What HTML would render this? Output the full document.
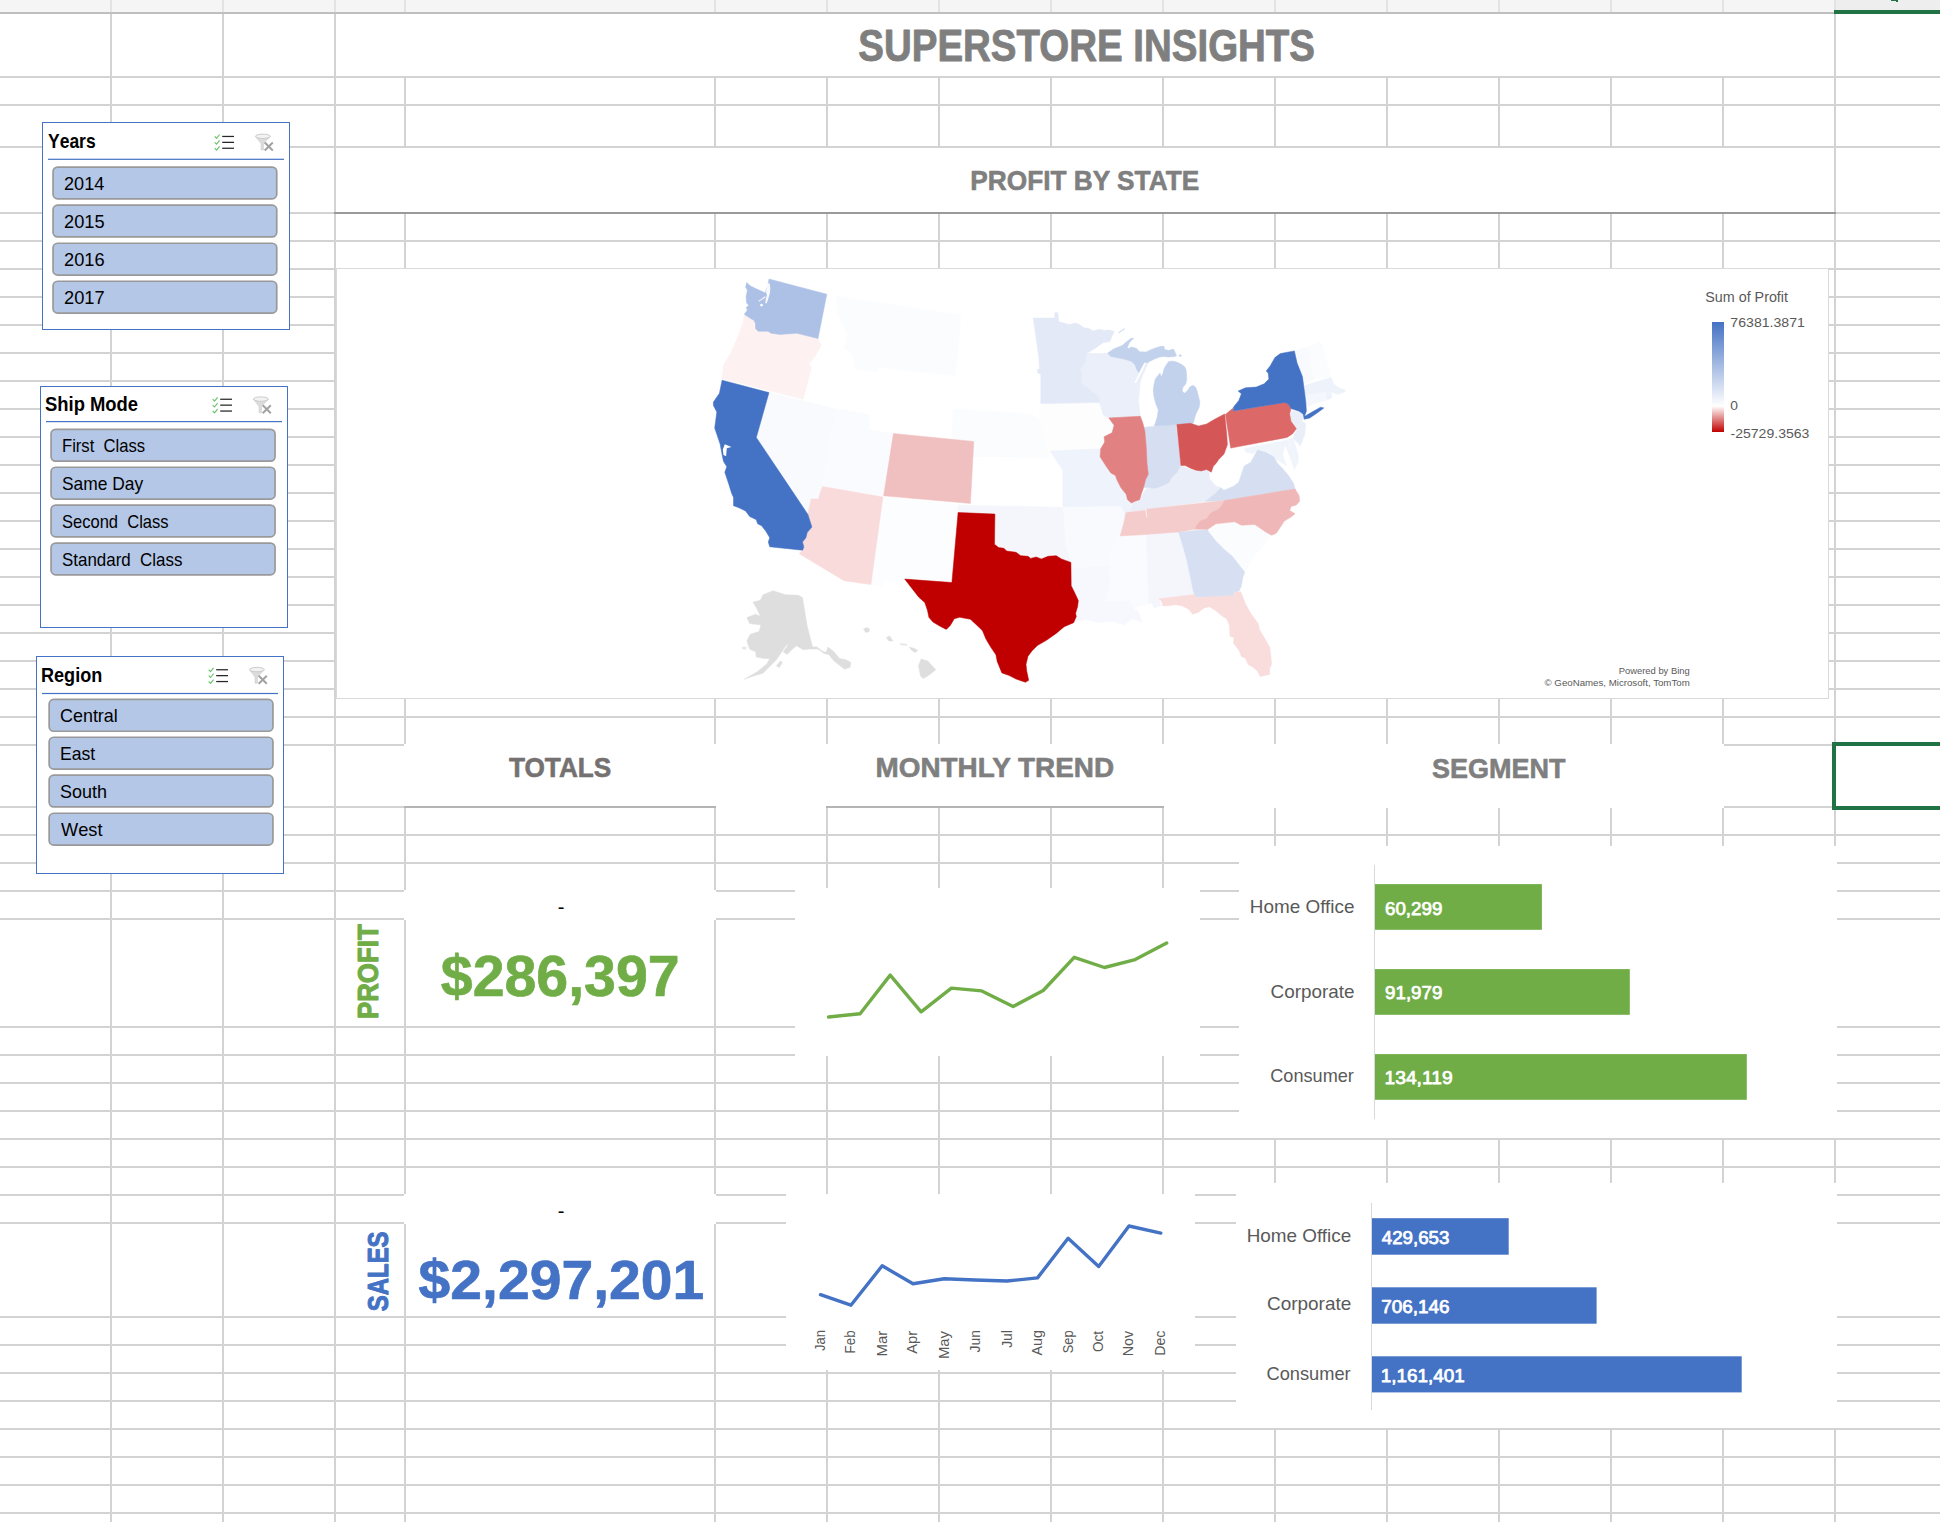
<!DOCTYPE html>
<html lang="en"><head><meta charset="utf-8"><title>Superstore Insights</title>
<style>
html,body{margin:0;padding:0;background:#fff}
body{width:1940px;height:1522px;overflow:hidden;font-family:"Liberation Sans", sans-serif}
#sheet{position:relative;width:1940px;height:1522px;overflow:hidden}
#sheet>svg{position:absolute;left:0;top:0}
svg text{font-family:"Liberation Sans", sans-serif;white-space:pre}

.slicer{position:absolute;box-sizing:border-box;border:1px solid #4472c4;background:#fff}
.slicer svg{position:absolute;left:-1px;top:-1px}
.slicer .t{position:absolute;line-height:1;white-space:pre;color:#000;transform-origin:0 0;font-kerning:none}
.slicer .h{font-weight:bold}

</style></head><body>
<div id="sheet">
<svg width="1940" height="1522" viewBox="0 0 1940 1522">
<g shape-rendering="crispEdges">
<rect x="0" y="0" width="1940" height="12" fill="#f5f5f5"/>
<rect x="1834" y="0" width="106" height="12" fill="#eeeeee"/>
<rect x="110" y="0" width="2" height="12" fill="#e3e3e3"/>
<rect x="222" y="0" width="2" height="12" fill="#e3e3e3"/>
<rect x="334" y="0" width="2" height="12" fill="#e3e3e3"/>
<rect x="404" y="0" width="2" height="12" fill="#e3e3e3"/>
<rect x="714" y="0" width="2" height="12" fill="#e3e3e3"/>
<rect x="826" y="0" width="2" height="12" fill="#e3e3e3"/>
<rect x="938" y="0" width="2" height="12" fill="#e3e3e3"/>
<rect x="1050" y="0" width="2" height="12" fill="#e3e3e3"/>
<rect x="1162" y="0" width="2" height="12" fill="#e3e3e3"/>
<rect x="1274" y="0" width="2" height="12" fill="#e3e3e3"/>
<rect x="1386" y="0" width="2" height="12" fill="#e3e3e3"/>
<rect x="1498" y="0" width="2" height="12" fill="#e3e3e3"/>
<rect x="1610" y="0" width="2" height="12" fill="#e3e3e3"/>
<rect x="1722" y="0" width="2" height="12" fill="#e3e3e3"/>
<rect x="1834" y="0" width="2" height="12" fill="#e3e3e3"/>
<rect x="0" y="12" width="1834" height="2" fill="#bfbfbf"/>
<rect x="1834" y="10" width="106" height="4" fill="#217346"/>
<path d="M1889.5 0H1897.5V1.8L1893 1Z" fill="#217346"/>
<rect x="110" y="14" width="2" height="1508" fill="#d3d3d3"/>
<rect x="222" y="14" width="2" height="1508" fill="#d3d3d3"/>
<rect x="334" y="14" width="2" height="1508" fill="#d3d3d3"/>
<rect x="404" y="14" width="2" height="1508" fill="#d3d3d3"/>
<rect x="714" y="14" width="2" height="1508" fill="#d3d3d3"/>
<rect x="826" y="14" width="2" height="1508" fill="#d3d3d3"/>
<rect x="938" y="14" width="2" height="1508" fill="#d3d3d3"/>
<rect x="1050" y="14" width="2" height="1508" fill="#d3d3d3"/>
<rect x="1162" y="14" width="2" height="1508" fill="#d3d3d3"/>
<rect x="1274" y="14" width="2" height="1508" fill="#d3d3d3"/>
<rect x="1386" y="14" width="2" height="1508" fill="#d3d3d3"/>
<rect x="1498" y="14" width="2" height="1508" fill="#d3d3d3"/>
<rect x="1610" y="14" width="2" height="1508" fill="#d3d3d3"/>
<rect x="1722" y="14" width="2" height="1508" fill="#d3d3d3"/>
<rect x="1834" y="14" width="2" height="1508" fill="#d3d3d3"/>
<rect x="0" y="76" width="1940" height="2" fill="#d3d3d3"/>
<rect x="0" y="104" width="1940" height="2" fill="#d3d3d3"/>
<rect x="0" y="146" width="1940" height="2" fill="#d3d3d3"/>
<rect x="0" y="212" width="1940" height="2" fill="#d3d3d3"/>
<rect x="0" y="240" width="1940" height="2" fill="#d3d3d3"/>
<rect x="0" y="268" width="1940" height="2" fill="#d3d3d3"/>
<rect x="0" y="296" width="1940" height="2" fill="#d3d3d3"/>
<rect x="0" y="324" width="1940" height="2" fill="#d3d3d3"/>
<rect x="0" y="352" width="1940" height="2" fill="#d3d3d3"/>
<rect x="0" y="380" width="1940" height="2" fill="#d3d3d3"/>
<rect x="0" y="408" width="1940" height="2" fill="#d3d3d3"/>
<rect x="0" y="436" width="1940" height="2" fill="#d3d3d3"/>
<rect x="0" y="464" width="1940" height="2" fill="#d3d3d3"/>
<rect x="0" y="492" width="1940" height="2" fill="#d3d3d3"/>
<rect x="0" y="520" width="1940" height="2" fill="#d3d3d3"/>
<rect x="0" y="548" width="1940" height="2" fill="#d3d3d3"/>
<rect x="0" y="576" width="1940" height="2" fill="#d3d3d3"/>
<rect x="0" y="604" width="1940" height="2" fill="#d3d3d3"/>
<rect x="0" y="632" width="1940" height="2" fill="#d3d3d3"/>
<rect x="0" y="660" width="1940" height="2" fill="#d3d3d3"/>
<rect x="0" y="688" width="1940" height="2" fill="#d3d3d3"/>
<rect x="0" y="716" width="1940" height="2" fill="#d3d3d3"/>
<rect x="0" y="744" width="1940" height="2" fill="#d3d3d3"/>
<rect x="0" y="806" width="1940" height="2" fill="#d3d3d3"/>
<rect x="0" y="834" width="1940" height="2" fill="#d3d3d3"/>
<rect x="0" y="862" width="1940" height="2" fill="#d3d3d3"/>
<rect x="0" y="890" width="1940" height="2" fill="#d3d3d3"/>
<rect x="0" y="918" width="1940" height="2" fill="#d3d3d3"/>
<rect x="0" y="1026" width="1940" height="2" fill="#d3d3d3"/>
<rect x="0" y="1054" width="1940" height="2" fill="#d3d3d3"/>
<rect x="0" y="1082" width="1940" height="2" fill="#d3d3d3"/>
<rect x="0" y="1110" width="1940" height="2" fill="#d3d3d3"/>
<rect x="0" y="1138" width="1940" height="2" fill="#d3d3d3"/>
<rect x="0" y="1166" width="1940" height="2" fill="#d3d3d3"/>
<rect x="0" y="1194" width="1940" height="2" fill="#d3d3d3"/>
<rect x="0" y="1222" width="1940" height="2" fill="#d3d3d3"/>
<rect x="0" y="1316" width="1940" height="2" fill="#d3d3d3"/>
<rect x="0" y="1344" width="1940" height="2" fill="#d3d3d3"/>
<rect x="0" y="1372" width="1940" height="2" fill="#d3d3d3"/>
<rect x="0" y="1400" width="1940" height="2" fill="#d3d3d3"/>
<rect x="0" y="1428" width="1940" height="2" fill="#d3d3d3"/>
<rect x="0" y="1456" width="1940" height="2" fill="#d3d3d3"/>
<rect x="0" y="1484" width="1940" height="2" fill="#d3d3d3"/>
<rect x="0" y="1512" width="1940" height="2" fill="#d3d3d3"/>
<rect x="336" y="14" width="1498" height="62" fill="#fff"/>
<rect x="336" y="148" width="1498" height="64" fill="#fff"/>
<rect x="334" y="212" width="1502" height="2" fill="#9a9a9a"/>
<rect x="404" y="744" width="1320" height="64" fill="#fff"/>
<rect x="404" y="806" width="312" height="2" fill="#b4b4b4"/>
<rect x="826" y="806" width="338" height="2" fill="#b4b4b4"/>
<rect x="404" y="890" width="312" height="30" fill="#fff"/>
<rect x="404" y="1194" width="312" height="30" fill="#fff"/>
<rect x="406" y="920" width="308" height="106" fill="#fff"/>
<rect x="406" y="1224" width="308" height="92" fill="#fff"/>
<rect x="795" y="888" width="405" height="168" fill="#fff"/>
<rect x="1239" y="846" width="598" height="292" fill="#fff"/>
<rect x="786" y="1194" width="409" height="176" fill="#fff"/>
<rect x="1236" y="1183" width="601" height="245" fill="#fff"/>
<rect x="336" y="268" width="1493" height="431" fill="#d9d9d9"/>
<rect x="337" y="269" width="1491" height="429" fill="#fff"/>
<path d="M1832 742H1940V746H1836V806H1940V810H1832Z" fill="#217346"/>
</g>
<g id="labels">
<text x="858.34" y="61.349999999999994" font-size="44.0" fill="#7f7f7f" font-weight="bold" text-anchor="start" textLength="456.71" lengthAdjust="spacingAndGlyphs" stroke="#7f7f7f" stroke-width="0.9" stroke-linejoin="round">SUPERSTORE INSIGHTS</text>
<text x="970.28" y="189.5" font-size="28.3" fill="#7f7f7f" font-weight="bold" text-anchor="start" textLength="228.93" lengthAdjust="spacingAndGlyphs" stroke="#7f7f7f" stroke-width="0.6" stroke-linejoin="round">PROFIT BY STATE</text>
<text x="508.91" y="777.3000000000001" font-size="27.9" fill="#757171" font-weight="bold" text-anchor="start" textLength="102.39" lengthAdjust="spacingAndGlyphs" stroke="#757171" stroke-width="0.6" stroke-linejoin="round">TOTALS</text>
<text x="875.46" y="777.3000000000001" font-size="27.9" fill="#7f7f7f" font-weight="bold" text-anchor="start" textLength="238.7" lengthAdjust="spacingAndGlyphs" stroke="#7f7f7f" stroke-width="0.6" stroke-linejoin="round">MONTHLY TREND</text>
<text x="1432.02" y="777.7" font-size="27.9" fill="#7f7f7f" font-weight="bold" text-anchor="start" textLength="133.47" lengthAdjust="spacingAndGlyphs" stroke="#7f7f7f" stroke-width="0.6" stroke-linejoin="round">SEGMENT</text>
<text x="440.79" y="995.85" font-size="57.4" fill="#70ad47" font-weight="bold" text-anchor="start" textLength="238.87" lengthAdjust="spacingAndGlyphs" stroke="#70ad47" stroke-width="0.7" stroke-linejoin="round">$286,397</text>
<text x="418.6" y="1298.75" font-size="56.4" fill="#4472c4" font-weight="bold" text-anchor="start" textLength="285.64" lengthAdjust="spacingAndGlyphs" stroke="#4472c4" stroke-width="0.7" stroke-linejoin="round">$2,297,201</text>
<text x="561.2" y="913.9" font-size="20" fill="#000" font-weight="normal" text-anchor="middle">-</text>
<text x="561.2" y="1218.3" font-size="20" fill="#000" font-weight="normal" text-anchor="middle">-</text>
<text transform="translate(378.1,1017.4) rotate(-90)" x="-1.73" y="0" font-size="28.9" fill="#70ad47" font-weight="bold" textLength="95.01" lengthAdjust="spacingAndGlyphs" stroke="#70ad47" stroke-width="1.0" stroke-linejoin="round">PROFIT</text>
<text transform="translate(388.3,1310.5) rotate(-90)" x="-0.69" y="0" font-size="29.4" fill="#4472c4" font-weight="bold" textLength="79.72" lengthAdjust="spacingAndGlyphs" stroke="#4472c4" stroke-width="1.0" stroke-linejoin="round">SALES</text>
</g>
<g id="charts">
<polyline fill="none" stroke="#70ad47" stroke-width="3.4" stroke-linecap="round" stroke-linejoin="round" points="828.6,1017.0 860.1,1013.7 890.2,975.1 921.1,1011.8 951.4,988.1 981.8,990.9 1013.1,1006.6 1043.2,990.5 1074.2,957.3 1104.4,967.5 1135.2,959.6 1166.7,943.0"/>
<polyline fill="none" stroke="#4472c4" stroke-width="3.4" stroke-linecap="round" stroke-linejoin="round" points="820.5,1294.7 850.9,1305.2 882.2,1265.8 913.0,1283.8 944.3,1278.8 975.1,1280.0 1007.1,1281.0 1037.5,1277.9 1068.1,1238.3 1098.7,1266.5 1129.0,1226.0 1160.8,1233.1"/>
<text transform="translate(824.9,1350.9) rotate(-90)" x="-0.2" y="0" font-size="14.8" fill="#595959" font-weight="normal" textLength="20.95" lengthAdjust="spacingAndGlyphs">Jan</text>
<text transform="translate(855.3,1352.3) rotate(-90)" x="-1.09" y="0" font-size="14.8" fill="#595959" font-weight="normal" textLength="22.95" lengthAdjust="spacingAndGlyphs">Feb</text>
<text transform="translate(886.6,1355.4) rotate(-90)" x="-1.23" y="0" font-size="14.8" fill="#595959" font-weight="normal" textLength="25.88" lengthAdjust="spacingAndGlyphs">Mar</text>
<text transform="translate(917.4,1353.8) rotate(-90)" x="-0.03" y="0" font-size="14.8" fill="#595959" font-weight="normal" textLength="23.08" lengthAdjust="spacingAndGlyphs">Apr</text>
<text transform="translate(948.7,1357.8) rotate(-90)" x="-1.22" y="0" font-size="14.8" fill="#595959" font-weight="normal" textLength="28.05" lengthAdjust="spacingAndGlyphs">May</text>
<text transform="translate(979.5,1352.3) rotate(-90)" x="-0.22" y="0" font-size="14.8" fill="#595959" font-weight="normal" textLength="22.42" lengthAdjust="spacingAndGlyphs">Jun</text>
<text transform="translate(1011.5,1347.6) rotate(-90)" x="-0.22" y="0" font-size="14.8" fill="#595959" font-weight="normal" textLength="17.75" lengthAdjust="spacingAndGlyphs">Jul</text>
<text transform="translate(1041.9,1355.4) rotate(-90)" x="-0.03" y="0" font-size="14.8" fill="#595959" font-weight="normal" textLength="25.35" lengthAdjust="spacingAndGlyphs">Aug</text>
<text transform="translate(1072.5,1352.6) rotate(-90)" x="-0.58" y="0" font-size="14.8" fill="#595959" font-weight="normal" textLength="22.72" lengthAdjust="spacingAndGlyphs">Sep</text>
<text transform="translate(1103.1,1351.4) rotate(-90)" x="-0.64" y="0" font-size="14.8" fill="#595959" font-weight="normal" textLength="21.14" lengthAdjust="spacingAndGlyphs">Oct</text>
<text transform="translate(1133.4,1355.2) rotate(-90)" x="-1.17" y="0" font-size="14.8" fill="#595959" font-weight="normal" textLength="25.42" lengthAdjust="spacingAndGlyphs">Nov</text>
<text transform="translate(1165.2,1354.7) rotate(-90)" x="-1.16" y="0" font-size="14.8" fill="#595959" font-weight="normal" textLength="25.24" lengthAdjust="spacingAndGlyphs">Dec</text>
<rect x="1374" y="865" width="1" height="254" fill="#d9d9d9" shape-rendering="crispEdges"/>
<rect x="1375" y="884.1" width="166.9" height="45.7" fill="#70ad47"/>
<text x="1249.86" y="912.9" font-size="18.6" fill="#595959" font-weight="normal" text-anchor="start" textLength="104.58" lengthAdjust="spacingAndGlyphs">Home Office</text>
<text x="1385.02" y="914.725" font-size="18.0" fill="#fff" font-weight="normal" text-anchor="start" textLength="57.29" lengthAdjust="spacingAndGlyphs" stroke="#fff" stroke-width="0.75" stroke-linejoin="round">60,299</text>
<rect x="1375" y="969.1" width="254.8" height="45.7" fill="#70ad47"/>
<text x="1270.54" y="997.6" font-size="18.6" fill="#595959" font-weight="normal" text-anchor="start" textLength="83.9" lengthAdjust="spacingAndGlyphs">Corporate</text>
<text x="1385.1" y="998.825" font-size="18.0" fill="#fff" font-weight="normal" text-anchor="start" textLength="57.21" lengthAdjust="spacingAndGlyphs" stroke="#fff" stroke-width="0.75" stroke-linejoin="round">91,979</text>
<rect x="1375" y="1054.1" width="371.8" height="45.7" fill="#70ad47"/>
<text x="1270.28" y="1081.6000000000001" font-size="18.6" fill="#595959" font-weight="normal" text-anchor="start" textLength="83.62" lengthAdjust="spacingAndGlyphs">Consumer</text>
<text x="1384.54" y="1084.125" font-size="18.0" fill="#fff" font-weight="normal" text-anchor="start" textLength="68.08" lengthAdjust="spacingAndGlyphs" stroke="#fff" stroke-width="0.75" stroke-linejoin="round">134,119</text>
<rect x="1371" y="1203" width="1" height="207" fill="#d9d9d9" shape-rendering="crispEdges"/>
<rect x="1372" y="1218.2" width="136.7" height="36.5" fill="#4472c4"/>
<text x="1246.66" y="1241.6000000000001" font-size="18.6" fill="#595959" font-weight="normal" text-anchor="start" textLength="104.58" lengthAdjust="spacingAndGlyphs">Home Office</text>
<text x="1381.75" y="1244.125" font-size="18.0" fill="#fff" font-weight="normal" text-anchor="start" textLength="67.6" lengthAdjust="spacingAndGlyphs" stroke="#fff" stroke-width="0.75" stroke-linejoin="round">429,653</text>
<rect x="1372" y="1287.3" width="224.6" height="36.4" fill="#4472c4"/>
<text x="1267.04" y="1310.3000000000002" font-size="18.6" fill="#595959" font-weight="normal" text-anchor="start" textLength="84.2" lengthAdjust="spacingAndGlyphs">Corporate</text>
<text x="1381.2" y="1312.825" font-size="18.0" fill="#fff" font-weight="normal" text-anchor="start" textLength="68.45" lengthAdjust="spacingAndGlyphs" stroke="#fff" stroke-width="0.75" stroke-linejoin="round">706,146</text>
<rect x="1372" y="1356.3" width="369.7" height="36.1" fill="#4472c4"/>
<text x="1266.47" y="1379.7" font-size="18.6" fill="#595959" font-weight="normal" text-anchor="start" textLength="84.23" lengthAdjust="spacingAndGlyphs">Consumer</text>
<text x="1380.73" y="1381.825" font-size="18.0" fill="#fff" font-weight="normal" text-anchor="start" textLength="84.11" lengthAdjust="spacingAndGlyphs" stroke="#fff" stroke-width="0.75" stroke-linejoin="round">1,161,401</text>
</g>
<g id="map" stroke-linejoin="round">
<path d="M835.4 296.1 L961.1 314.9 L955.7 375.9 L876.9 367.2 L876.9 371.9 L855.5 369.2 L851.4 353.1 L844.1 349.1 L847.4 335.7 L838.0 314.2Z" fill="#fbfcfe" stroke="#fbfcfe" stroke-width="0.5"/>
<path d="M769.0 392.6 L835.6 408.7 L822.6 486.6 L819.9 493.6 L818.6 499.0 L811.2 499.0 L807.9 514.4 L756.3 437.5Z" fill="#f8fafd" stroke="#f8fafd" stroke-width="0.5"/>
<path d="M835.6 408.7 L869.5 414.7 L868.9 429.5 L892.0 433.3 L883.0 496.3 L822.6 486.6Z" fill="#fafbfe" stroke="#fafbfe" stroke-width="0.5"/>
<path d="M882.9 497.0 L958.3 504.5 L958.1 512.5 L951.9 582.5 L904.7 579.1 L904.6 582.6 L884.0 581.0 L883.4 586.3 L870.9 584.5Z" fill="#fcfdfe" stroke="#fcfdfe" stroke-width="0.5"/>
<path d="M953.0 408.7 L1031.4 414.1 L1039.5 418.8 L1044.8 437.5 L1050.2 457.6 L973.8 457.0 L973.8 441.5 L951.7 439.5Z" fill="#fafcfe" stroke="#fafcfe" stroke-width="0.5"/>
<path d="M958.1 504.9 L1062.9 507.2 L1064.2 514.1 L1065.6 543.6 L1070.9 562.4 L1061.5 559.0 L1056.2 555.7 L1048.1 556.3 L1041.4 559.0 L1036.1 557.0 L1030.7 558.4 L1028.0 556.3 L1020.7 555.7 L1016.0 552.3 L1006.6 551.0 L1003.9 548.3 L998.6 547.6 L994.5 544.3 L994.9 514.1 L958.1 512.5Z" fill="#f4f6fb" stroke="#f4f6fb" stroke-width="0.5"/>
<path d="M1040.8 403.6 L1099.8 402.7 L1101.8 409.4 L1103.1 414.8 L1108.8 417.9 L1114.1 425.3 L1112.1 432.7 L1104.1 436.7 L1104.7 442.1 L1100.7 448.8 L1050.2 451.0 L1044.8 437.5 L1039.5 418.8Z" fill="#fdfdfe" stroke="#fdfdfe" stroke-width="0.5"/>
<path d="M1050.2 451.0 L1100.7 448.8 L1100.1 456.8 L1106.1 466.2 L1110.8 472.9 L1115.5 475.6 L1116.8 479.6 L1120.8 487.6 L1126.2 494.3 L1127.5 499.7 L1131.5 503.0 L1130.2 511.1 L1127.0 517.5 L1123.0 517.5 L1124.0 512.0 L1120.5 506.5 L1062.9 507.2 L1062.9 470.0 L1057.0 462.0Z" fill="#eff3fb" stroke="#eff3fb" stroke-width="0.5"/>
<path d="M1062.9 507.2 L1120.5 506.5 L1124.0 512.0 L1123.0 517.5 L1126.0 517.0 L1123.5 523.8 L1120.2 535.9 L1116.8 539.9 L1111.4 550.6 L1109.5 566.0 L1071.2 568.0 L1070.9 562.4 L1065.6 543.6 L1064.2 514.1Z" fill="#f9fafe" stroke="#f9fafe" stroke-width="0.5"/>
<path d="M1071.2 568.0 L1109.5 566.0 L1110.1 584.1 L1106.1 600.9 L1130.2 600.2 L1134.2 608.2 L1139.0 613.0 L1142.0 622.0 L1132.0 619.0 L1124.0 625.0 L1112.0 621.0 L1098.0 622.5 L1085.0 619.5 L1073.6 622.7 L1076.3 616.6 L1075.6 613.3 L1077.6 606.6 L1078.3 600.6 L1074.3 591.9 L1071.2 585.8Z" fill="#f6f8fd" stroke="#f6f8fd" stroke-width="0.5"/>
<path d="M1120.2 535.9 L1146.3 534.5 L1147.6 577.4 L1149.0 604.2 L1139.6 605.6 L1134.2 608.2 L1130.2 600.2 L1106.1 600.9 L1110.1 584.1 L1108.8 564.0 L1111.4 550.6 L1116.8 539.9Z" fill="#fafbfe" stroke="#fafbfe" stroke-width="0.5"/>
<path d="M1146.3 534.5 L1178.5 532.1 L1181.1 539.9 L1186.5 558.7 L1190.5 577.4 L1193.2 590.8 L1194.5 595.1 L1159.0 598.2 L1161.0 605.6 L1154.3 608.2 L1151.7 602.9 L1149.0 604.2 L1147.6 577.4Z" fill="#f4f6fc" stroke="#f4f6fc" stroke-width="0.5"/>
<path d="M1208.6 531.9 L1216.0 523.8 L1234.7 521.8 L1241.4 525.2 L1254.8 524.5 L1265.6 531.9 L1271.6 535.2 L1264.0 545.0 L1253.0 557.0 L1244.8 572.1 L1241.4 568.0 L1237.4 562.7 L1232.1 556.0 L1224.0 549.3 L1216.0 541.2Z" fill="#fbfcfe" stroke="#fbfcfe" stroke-width="0.5"/>
<path d="M1295.1 350.6 L1308.9 346.7 L1314.1 378.9 L1303.6 384.1 L1301.6 373.6Z" fill="#f8fafe" stroke="#f8fafe" stroke-width="0.5"/>
<path d="M1308.9 346.7 L1319.4 342.1 L1322.0 343.4 L1331.2 377.6 L1314.1 378.9Z" fill="#fbfcfe" stroke="#fbfcfe" stroke-width="0.5"/>
<path d="M1304.3 385.4 L1331.2 377.6 L1333.8 384.1 L1339.1 388.1 L1345.7 390.0 L1344.4 392.0 L1337.8 394.6 L1331.2 392.0 L1304.9 394.9Z" fill="#eef2fa" stroke="#eef2fa" stroke-width="0.5"/>
<path d="M1305.2 395.3 L1326.0 392.3 L1327.3 399.9 L1314.1 403.8 L1307.6 406.5 L1306.2 403.8Z" fill="#f4f7fc" stroke="#f4f7fc" stroke-width="0.5"/>
<path d="M1326.0 392.3 L1331.2 392.0 L1331.9 397.9 L1327.3 399.9Z" fill="#eef2fa" stroke="#eef2fa" stroke-width="0.5"/>
<path d="M1291.8 410.4 L1303.0 413.3 L1304.3 418.3 L1301.6 420.9 L1305.6 423.6 L1304.9 434.1 L1300.3 445.9 L1293.1 438.0 L1297.0 428.8 L1291.1 420.9 L1290.5 415.7Z" fill="#e9eef8" stroke="#e9eef8" stroke-width="0.5"/>
<path d="M1288.5 439.3 L1293.1 438.0 L1298.3 455.1 L1293.1 455.8Z" fill="#f0f4fb" stroke="#f0f4fb" stroke-width="0.5"/>
<path d="M1244.5 448.5 L1287.8 440.0 L1293.1 455.8 L1298.3 455.1 L1298.3 461.7 L1294.4 469.6 L1291.8 461.7 L1287.8 451.2 L1285.2 444.6 L1282.6 455.1 L1286.5 465.6 L1279.9 461.7 L1273.4 457.7 L1269.4 452.5 L1262.9 451.2 L1257.6 449.8 L1253.7 453.8 L1245.8 452.5Z" fill="#f0f4fb" stroke="#f0f4fb" stroke-width="0.5"/>
<path d="M744.3 314.6 L750.5 318.4 L754.1 320.5 L755.4 323.5 L755.6 328.7 L758.2 331.3 L768.0 331.3 L771.1 333.3 L779.8 334.4 L796.9 333.3 L818.0 338.5 L821.3 345.7 L815.3 355.8 L809.2 363.8 L811.2 367.8 L803.2 399.3 L722.1 378.6 L723.5 365.2 L730.8 353.1 L738.9 334.3 L742.9 323.6Z" fill="#fdf1f1" stroke="#fdf1f1" stroke-width="0.5"/>
<path d="M1086.7 352.8 L1093.0 353.4 L1100.3 353.5 L1107.7 353.1 L1110.6 356.4 L1117.8 357.8 L1125.0 359.3 L1131.6 361.4 L1135.2 365.0 L1136.6 369.4 L1138.8 372.6 L1140.9 368.7 L1143.1 365.0 L1145.3 362.2 L1148.9 362.2 L1145.3 369.4 L1142.4 375.9 L1140.2 383.1 L1139.5 390.3 L1138.4 401.2 L1138.9 404.5 L1140.3 416.3 L1108.8 417.9 L1103.1 414.8 L1101.8 409.4 L1099.4 402.6 L1099.4 398.3 L1096.9 395.4 L1092.5 392.5 L1088.9 388.5 L1084.6 386.0 L1081.3 383.1 L1081.0 378.1 L1081.3 372.3 L1080.2 368.7 L1082.4 365.0 L1085.7 361.4 L1086.0 357.1Z" fill="#ebeff9" stroke="#ebeff9" stroke-width="0.5"/>
<path d="M1033.2 318.0 L1054.9 318.0 L1054.9 312.6 L1057.6 312.6 L1058.9 321.6 L1060.0 322.0 L1069.4 324.6 L1075.2 323.1 L1079.5 324.6 L1083.9 327.8 L1088.9 328.5 L1093.2 331.1 L1099.0 329.3 L1104.1 330.4 L1109.1 330.0 L1114.2 331.4 L1112.0 336.1 L1109.9 341.6 L1103.4 342.6 L1099.0 345.5 L1094.0 349.1 L1088.9 352.0 L1086.7 352.8 L1086.0 357.1 L1085.7 361.4 L1082.4 365.0 L1080.2 368.7 L1081.3 372.3 L1081.0 378.1 L1081.3 383.1 L1084.6 386.0 L1088.9 388.5 L1092.5 392.5 L1096.9 395.4 L1099.4 398.3 L1099.4 402.6 L1040.8 403.6 L1040.8 374.5 L1037.5 372.5 L1037.5 369.8 L1039.5 368.5 L1038.8 357.1 L1035.5 334.3Z" fill="#e3e9f6" stroke="#e3e9f6" stroke-width="0.5"/>
<path d="M1130.2 511.1 L1132.9 503.0 L1139.6 499.7 L1143.6 493.0 L1145.6 489.0 L1153.0 487.6 L1159.7 485.6 L1165.1 482.3 L1170.4 478.9 L1174.4 472.2 L1179.8 466.2 L1183.8 466.2 L1189.2 468.9 L1195.9 470.9 L1201.2 470.2 L1206.6 469.5 L1209.3 472.9 L1209.3 478.2 L1216.0 486.3 L1220.7 487.6 L1216.0 493.0 L1205.3 501.4 L1147.6 509.1 L1146.0 510.5Z" fill="#e9eef8" stroke="#e9eef8" stroke-width="0.5"/>
<path d="M1144.3 427.3 L1175.8 424.4 L1178.5 447.4 L1180.5 465.5 L1177.1 472.2 L1171.8 476.9 L1168.4 482.9 L1162.4 485.6 L1155.7 488.3 L1145.6 487.6 L1143.6 487.6 L1145.6 479.6 L1148.3 474.2 L1147.0 463.5 L1146.3 447.4 L1144.9 431.3Z" fill="#d5dff1" stroke="#d5dff1" stroke-width="0.5"/>
<path d="M1205.3 501.4 L1216.0 493.0 L1220.7 487.6 L1224.0 490.3 L1233.4 486.3 L1238.8 482.3 L1241.4 474.2 L1244.1 466.2 L1250.8 462.2 L1257.5 450.1 L1266.9 452.8 L1273.6 456.8 L1277.6 463.5 L1283.0 468.9 L1288.4 475.6 L1293.7 483.6 L1295.1 489.0 L1224.7 500.4Z" fill="#d5dff1" stroke="#d5dff1" stroke-width="0.5"/>
<path d="M1178.5 532.1 L1207.9 529.4 L1208.6 531.9 L1216.0 541.2 L1224.0 549.3 L1232.1 556.0 L1237.4 562.7 L1241.4 568.0 L1244.8 572.1 L1242.8 577.4 L1241.4 585.5 L1239.4 590.8 L1234.1 592.8 L1233.4 597.5 L1232.1 596.2 L1195.2 597.5 L1193.2 590.8 L1190.5 577.4 L1186.5 558.7 L1181.1 539.9Z" fill="#d7e0f2" stroke="#d7e0f2" stroke-width="0.5"/>
<path d="M1107.7 353.1 L1113.5 349.1 L1122.2 345.5 L1127.2 341.2 L1131.2 338.3 L1133.7 338.3 L1129.4 342.6 L1127.2 347.7 L1128.7 348.4 L1131.6 347.0 L1136.6 348.4 L1139.5 351.7 L1146.0 352.0 L1150.3 349.9 L1156.1 347.7 L1161.2 346.3 L1164.1 346.3 L1164.1 349.1 L1168.4 350.6 L1173.5 349.1 L1174.9 352.0 L1176.4 356.0 L1172.7 356.7 L1168.4 357.1 L1164.1 356.4 L1159.7 357.1 L1154.0 359.3 L1149.6 361.4 L1146.7 362.9 L1145.3 362.2 L1143.1 365.0 L1140.9 368.7 L1138.8 372.6 L1136.6 369.4 L1135.2 365.0 L1131.6 361.4 L1125.0 359.3 L1117.8 357.8 L1110.6 356.4Z" fill="#c2d1ec" stroke="#c2d1ec" stroke-width="0.5"/>
<path d="M1154.3 426.0 L1157.0 417.9 L1158.3 410.0 L1155.4 402.6 L1154.0 396.9 L1153.2 390.3 L1154.0 384.6 L1155.4 378.8 L1157.6 375.9 L1160.1 373.0 L1161.2 377.3 L1163.0 373.0 L1164.1 368.7 L1166.2 365.0 L1168.4 361.8 L1172.7 361.1 L1177.1 362.2 L1182.1 364.7 L1185.0 367.2 L1186.1 370.1 L1186.5 375.2 L1186.8 379.5 L1185.8 383.8 L1182.9 387.5 L1182.1 391.1 L1184.3 393.2 L1187.2 391.1 L1190.1 386.7 L1193.0 385.3 L1195.9 387.5 L1197.7 393.2 L1199.9 401.9 L1199.2 407.2 L1195.9 413.9 L1193.9 420.6 L1193.2 423.3 L1176.8 424.6Z" fill="#c2d1ec" stroke="#c2d1ec" stroke-width="0.5"/>
<path d="M822.6 486.6 L882.9 497.0 L870.9 584.5 L844.1 580.7 L799.2 553.7 L802.5 550.2 L803.9 547.2 L802.5 541.9 L805.9 537.8 L807.2 532.5 L811.9 527.1 L807.9 514.4 L811.2 499.0 L818.6 499.0 L819.9 493.6Z" fill="#f9dbdb" stroke="#f9dbdb" stroke-width="0.5"/>
<path d="M893.4 433.5 L973.8 441.5 L970.4 503.4 L883.6 495.8Z" fill="#f0c0c0" stroke="#f0c0c0" stroke-width="0.5"/>
<path d="M1159.0 598.8 L1194.5 594.5 L1195.9 597.4 L1232.1 595.8 L1234.1 598.1 L1234.1 592.3 L1240.8 591.8 L1245.5 604.1 L1250.8 613.5 L1258.2 623.6 L1259.5 629.6 L1264.2 637.6 L1269.6 647.0 L1270.9 656.4 L1271.6 664.4 L1269.6 668.5 L1269.6 674.5 L1260.2 676.5 L1257.5 671.1 L1252.8 667.1 L1248.1 664.4 L1245.5 658.4 L1241.4 656.4 L1239.4 651.0 L1233.4 643.0 L1234.1 637.6 L1230.0 636.3 L1229.4 625.6 L1226.7 618.9 L1221.3 615.5 L1216.0 610.8 L1209.3 606.8 L1203.9 608.1 L1198.6 612.2 L1192.5 614.2 L1189.2 609.5 L1182.5 606.1 L1175.8 604.8 L1170.4 605.5 L1163.0 606.1 L1161.7 601.4Z" fill="#f9dcdc" stroke="#f9dcdc" stroke-width="0.5"/>
<path d="M1126.2 512.4 L1146.0 510.3 L1147.6 509.1 L1224.7 500.4 L1222.0 505.1 L1218.7 509.1 L1210.6 513.1 L1206.6 518.5 L1199.9 521.1 L1195.9 526.5 L1195.2 529.2 L1178.5 531.9 L1146.3 534.5 L1120.2 535.9 L1123.5 523.8Z" fill="#f5cccc" stroke="#f5cccc" stroke-width="0.5"/>
<path d="M1224.7 500.4 L1295.1 489.0 L1299.1 495.7 L1299.7 501.0 L1296.4 505.1 L1291.0 506.4 L1289.7 510.4 L1295.1 513.8 L1291.0 517.1 L1284.3 521.1 L1279.0 529.2 L1276.3 533.2 L1271.6 535.2 L1265.6 531.9 L1254.8 524.5 L1241.4 525.2 L1234.7 521.8 L1216.0 523.8 L1207.9 529.2 L1195.2 529.2 L1195.9 526.5 L1199.9 521.1 L1206.6 518.5 L1210.6 513.1 L1218.7 509.1 L1222.0 505.1Z" fill="#efb7b7" stroke="#efb7b7" stroke-width="0.5"/>
<path d="M746.6 282.6 L750.5 285.9 L755.6 288.5 L761.8 291.3 L765.2 292.9 L766.4 289.0 L768.0 284.9 L769.0 279.0 L826.8 294.2 L818.0 338.5 L796.9 333.3 L779.8 334.4 L771.1 333.3 L768.0 331.3 L758.2 331.3 L755.6 328.7 L755.4 323.5 L754.1 320.5 L750.5 318.4 L744.3 314.3 L747.4 310.1 L746.1 307.6 L748.9 305.5 L746.6 302.9 L746.1 296.7 L747.4 290.0 L745.6 287.5Z" fill="#adc0e6" stroke="#adc0e6" stroke-width="0.5"/>
<path d="M1108.8 417.9 L1140.3 416.3 L1142.9 423.3 L1144.9 431.3 L1146.3 447.4 L1147.0 463.5 L1148.3 474.2 L1145.6 479.6 L1143.6 487.6 L1141.6 493.0 L1139.6 499.7 L1135.6 501.0 L1131.5 503.0 L1127.5 499.7 L1126.2 494.3 L1120.8 487.6 L1116.8 479.6 L1115.5 475.6 L1110.8 472.9 L1106.1 466.2 L1100.1 456.8 L1100.7 448.8 L1104.7 442.1 L1104.1 436.7 L1112.1 432.7 L1114.1 425.3Z" fill="#e18181" stroke="#e18181" stroke-width="0.5"/>
<path d="M1225.4 414.6 L1232.7 408.3 L1233.4 411.2 L1284.3 402.5 L1288.4 403.9 L1291.0 408.6 L1289.7 413.9 L1291.0 421.3 L1296.4 428.7 L1292.4 434.0 L1287.0 437.4 L1230.7 448.1Z" fill="#dc6868" stroke="#dc6868" stroke-width="0.5"/>
<path d="M1176.8 424.6 L1190.5 423.3 L1198.6 426.0 L1206.6 424.0 L1214.6 419.3 L1224.7 413.9 L1226.7 434.0 L1227.4 444.7 L1224.0 454.1 L1218.7 459.5 L1216.0 463.5 L1213.3 466.2 L1211.3 472.2 L1206.6 469.5 L1201.2 470.9 L1195.9 470.2 L1190.5 468.2 L1185.2 465.5 L1180.9 465.5Z" fill="#d55656" stroke="#d55656" stroke-width="0.5"/>
<path d="M722.1 380.2 L769.0 392.6 L756.3 437.5 L807.9 514.4 L811.9 527.1 L807.2 532.5 L805.9 537.8 L802.5 541.9 L803.9 547.2 L802.5 550.2 L769.7 546.8 L768.3 541.9 L769.7 537.8 L765.7 531.1 L761.6 525.8 L757.6 523.8 L756.3 519.7 L749.6 516.4 L745.6 511.0 L738.9 507.7 L733.5 505.7 L733.5 497.6 L731.5 492.9 L728.8 484.2 L724.8 472.2 L726.8 466.8 L723.5 461.4 L722.1 454.7 L720.1 444.0 L714.7 428.1 L716.8 412.1 L713.4 405.4 L713.4 402.0 L719.4 393.3Z" fill="#4472c4" stroke="#4472c4" stroke-width="0.5"/>
<path d="M1233.4 411.0 L1233.4 407.2 L1238.8 400.5 L1241.4 393.8 L1238.1 391.1 L1245.5 387.8 L1256.2 387.1 L1264.2 383.8 L1268.9 379.1 L1268.2 373.0 L1266.2 371.0 L1270.3 365.7 L1274.9 357.6 L1280.3 353.6 L1294.4 350.9 L1297.1 363.0 L1302.4 376.4 L1304.4 391.1 L1305.8 401.9 L1306.4 411.2 L1304.4 416.6 L1311.1 412.6 L1320.5 407.2 L1323.9 407.9 L1317.8 412.6 L1309.8 417.9 L1304.4 419.3 L1303.1 413.9 L1299.1 411.2 L1291.0 408.6 L1288.4 403.9 L1284.3 402.5Z" fill="#4472c4" stroke="#4472c4" stroke-width="0.5"/>
<path d="M904.7 579.1 L951.9 582.5 L958.1 512.5 L994.9 514.1 L994.5 544.3 L998.6 547.6 L1003.9 548.3 L1006.6 551.0 L1016.0 552.3 L1020.7 555.7 L1028.0 556.3 L1030.7 558.4 L1036.1 557.0 L1041.4 559.0 L1048.1 556.3 L1056.2 555.7 L1061.5 559.0 L1070.9 562.4 L1071.2 585.8 L1074.3 591.9 L1078.3 600.6 L1077.6 606.6 L1075.6 613.3 L1076.3 616.6 L1073.6 622.7 L1064.2 626.7 L1056.2 633.4 L1046.8 640.1 L1037.4 645.5 L1032.1 650.8 L1028.0 656.2 L1026.0 664.2 L1026.7 670.9 L1028.7 680.3 L1025.4 682.3 L1016.0 679.0 L1009.3 675.6 L1001.9 672.9 L997.2 661.5 L995.9 654.8 L990.5 646.8 L985.8 638.8 L982.5 630.7 L977.1 625.4 L970.4 619.3 L959.7 617.3 L954.3 618.7 L950.3 625.4 L946.3 629.4 L939.6 626.0 L932.9 622.0 L928.9 617.3 L927.5 610.6 L924.8 602.6 L918.8 597.2 L911.4 587.8Z" fill="#c00000" stroke="#c00000" stroke-width="0.5"/>
<path d="M773.0 590.8 L785.8 594.8 L798.5 595.2 L802.5 597.5 L807.2 626.3 L812.6 647.1 L816.6 646.7 L821.3 650.4 L826.0 652.4 L828.0 647.1 L834.0 651.8 L839.4 658.5 L846.1 659.8 L850.8 662.5 L850.1 667.2 L844.7 669.2 L840.1 665.8 L834.0 661.1 L828.7 654.4 L824.6 653.8 L817.9 649.1 L809.9 649.1 L803.2 649.7 L796.5 645.7 L792.5 649.1 L787.1 654.4 L783.1 651.8 L789.1 643.7 L785.8 645.7 L779.1 655.8 L776.4 659.8 L769.7 666.5 L763.0 673.2 L753.6 675.9 L744.2 679.2 L757.0 671.9 L767.0 663.8 L769.7 658.5 L764.3 658.5 L756.3 657.1 L755.6 651.8 L749.6 649.1 L746.9 641.0 L750.3 634.3 L759.0 631.6 L761.0 624.9 L749.6 623.6 L746.9 617.6 L755.6 614.2 L760.3 616.2 L757.0 608.9 L752.9 602.2 L760.3 600.2 L763.0 594.8Z" fill="#dedede" stroke="#dedede" stroke-width="0.5"/>
<path d="M776.4 665.8 L780.4 661.1 L782.4 662.5 L779.1 667.8Z" fill="#dedede" stroke="#dedede" stroke-width="0.5"/>
<path d="M742.2 647.0 L746.2 647.2 L745.8 649.2 L742.6 649.0Z" fill="#e6e6e6" stroke="#e6e6e6" stroke-width="0.5"/>
<path d="M921.1 659.1 L927.8 661.1 L935.9 669.8 L927.8 675.9 L923.1 678.6 L920.5 675.9 L918.5 665.8Z" fill="#dedede" stroke="#dedede" stroke-width="0.5"/>
<path d="M909.1 647.1 L914.4 648.4 L917.8 650.4 L915.1 652.4 L911.8 650.4Z" fill="#dedede" stroke="#dedede" stroke-width="0.5"/>
<path d="M900.4 643.4 L907.1 644.4 L906.4 645.4 L900.4 644.6Z" fill="#e2e2e2" stroke="#e2e2e2" stroke-width="0.5"/>
<path d="M886.3 637.7 L889.6 635.9 L893.0 641.0 L889.0 641.0Z" fill="#dedede" stroke="#dedede" stroke-width="0.5"/>
<path d="M863.5 629.0 L866.9 627.4 L869.5 629.0 L868.9 631.9 L865.5 632.3Z" fill="#dedede" stroke="#dedede" stroke-width="0.5"/>
<path d="M767.4 283.6 L769.6 283.2 L770.3 288 L770 292.6 L769 296.2 L767.5 300.9 L766.4 303.4 L765.2 302.9 L765.9 298.8 L767 294.7 L766 292.8 L766.2 289.5Z" fill="#fff" fill-opacity="0.9"/>
<circle cx="761.5" cy="305.2" r="1.4" fill="#fff" fill-opacity="0.9"/>
<path d="M765.4 296.7 L758.5 301.4" stroke="#fff" stroke-width="1.1" stroke-opacity="0.9" fill="none"/>
<path d="M724.8 444.2 L731.5 446.9 L726.8 448.3 L726.1 456.3 L723.5 455 L722.8 449.6Z" fill="#fff"/>
<path d="M1145.6 362.2 L1143.8 367.9 L1139.5 376.6 L1135.9 383.1 L1134.4 382.4 L1138.1 375.2 L1141.7 367.9 L1144.2 362.9Z" fill="#fff"/>
<path d="M1178.5 355.7 L1180.3 354.2 L1182.1 356 L1180 356.7Z" fill="#c2d1ec"/>
<path d="M1118.2 332.5 L1124.6 328.2 L1125 329 L1118.8 333.3Z" fill="#c9d6ee"/>
<path d="M1145.7 509.8 L1147.0 517.2" fill="none" stroke="#fff" stroke-width="0.7"/>
<defs><linearGradient id="lg" x1="0" y1="0" x2="0" y2="1"><stop offset="0" stop-color="#4472c4"/><stop offset="0.765" stop-color="#ffffff"/><stop offset="1" stop-color="#c00000"/></linearGradient></defs>
<rect x="1712" y="322" width="12" height="110" fill="url(#lg)"/>
<text x="1705.25" y="302.2" font-size="14.1" fill="#595959" font-weight="normal" text-anchor="start" textLength="82.76" lengthAdjust="spacingAndGlyphs">Sum of Profit</text>
<text x="1730.38" y="326.8" font-size="13" fill="#595959" font-weight="normal" text-anchor="start" textLength="74.51" lengthAdjust="spacingAndGlyphs">76381.3871</text>
<text x="1730.26" y="409.8" font-size="13" fill="#595959" font-weight="normal" text-anchor="start" textLength="7.68" lengthAdjust="spacingAndGlyphs">0</text>
<text x="1730.48" y="437.9" font-size="13" fill="#595959" font-weight="normal" text-anchor="start" textLength="78.94" lengthAdjust="spacingAndGlyphs">-25729.3563</text>
<text x="1618.73" y="673.7" font-size="8.7" fill="#595959" font-weight="normal" text-anchor="start" textLength="70.98" lengthAdjust="spacingAndGlyphs">Powered by Bing</text>
<text x="1544.56" y="685.9" font-size="8.7" fill="#595959" font-weight="normal" text-anchor="start" textLength="145.17" lengthAdjust="spacingAndGlyphs">© GeoNames, Microsoft, TomTom</text>
</g>
</svg>
<div class="slicer" id="slicer-years" style="left:42px;top:122px;width:248px;height:208px">
<svg width="248" height="208" viewBox="42 122 248 208"><rect x="48" y="158.7" width="236" height="1.2" fill="#4472c4"/><rect x="53.05" y="167.05" width="223.70" height="31.80" rx="4.6" fill="#b4c7e7" stroke="#999999" stroke-width="1.7"/><rect x="53.05" y="205.15" width="223.70" height="31.80" rx="4.6" fill="#b4c7e7" stroke="#999999" stroke-width="1.7"/><rect x="53.05" y="243.25" width="223.70" height="31.80" rx="4.6" fill="#b4c7e7" stroke="#999999" stroke-width="1.7"/><rect x="53.05" y="281.25" width="223.70" height="31.80" rx="4.6" fill="#b4c7e7" stroke="#999999" stroke-width="1.7"/><g transform="translate(214,134.2)"><polyline points="0.7,2.2 2.5,4.1 5.6,0.3" fill="none" stroke="#6cc46a" stroke-width="1.15" stroke-linejoin="miter"/><line x1="8.2" x2="20" y1="2.25" y2="2.25" stroke="#262626" stroke-width="1.25"/><polyline points="0.7,8.1 2.5,10.0 5.6,6.2" fill="none" stroke="#6cc46a" stroke-width="1.15" stroke-linejoin="miter"/><line x1="8.2" x2="20" y1="8.15" y2="8.15" stroke="#262626" stroke-width="1.25"/><polyline points="0.7,14.0 2.5,15.9 5.6,12.1" fill="none" stroke="#6cc46a" stroke-width="1.15" stroke-linejoin="miter"/><line x1="8.2" x2="20" y1="14.05" y2="14.05" stroke="#262626" stroke-width="1.25"/><path d="M41.4 2.2 L47 9.4 V15.7 H49.5 V9.4 L56.4 2.2 Z" fill="#dcdcdc" stroke="#c8c8c8" stroke-width="0.5"/><ellipse cx="48.9" cy="2.1" rx="7.4" ry="2.2" fill="#f2f2f2" stroke="#c6c6c6" stroke-width="0.9"/><path d="M50.7 8.3 L58.8 16.3 M58.8 8.3 L50.7 16.3" stroke="#a2a2a2" stroke-width="2" fill="none"/></g></svg>
<span class="t h" style="left:5.05px;top:8.74px;font-size:19.8px;transform:scaleX(0.8836)">Years</span>
<span class="t" style="left:20.79px;top:51.75px;font-size:18.6px;transform:scaleX(0.9750)">2014</span>
<span class="t" style="left:20.78px;top:89.85px;font-size:18.6px;transform:scaleX(0.9808)">2015</span>
<span class="t" style="left:20.78px;top:127.95px;font-size:18.6px;transform:scaleX(0.9817)">2016</span>
<span class="t" style="left:20.78px;top:165.95px;font-size:18.6px;transform:scaleX(0.9846)">2017</span>
</div>
<div class="slicer" id="slicer-shipmode" style="left:40px;top:386px;width:248px;height:242px">
<svg width="248" height="242" viewBox="40 386 248 242"><rect x="46" y="421" width="236" height="1.2" fill="#4472c4"/><rect x="51.05" y="429.35" width="224.00" height="31.80" rx="4.6" fill="#b4c7e7" stroke="#999999" stroke-width="1.7"/><rect x="51.05" y="467.25" width="224.00" height="31.80" rx="4.6" fill="#b4c7e7" stroke="#999999" stroke-width="1.7"/><rect x="51.05" y="505.05" width="224.00" height="31.80" rx="4.6" fill="#b4c7e7" stroke="#999999" stroke-width="1.7"/><rect x="51.05" y="543.05" width="224.00" height="31.80" rx="4.6" fill="#b4c7e7" stroke="#999999" stroke-width="1.7"/><g transform="translate(212,397)"><polyline points="0.7,2.2 2.5,4.1 5.6,0.3" fill="none" stroke="#6cc46a" stroke-width="1.15" stroke-linejoin="miter"/><line x1="8.2" x2="20" y1="2.25" y2="2.25" stroke="#262626" stroke-width="1.25"/><polyline points="0.7,8.1 2.5,10.0 5.6,6.2" fill="none" stroke="#6cc46a" stroke-width="1.15" stroke-linejoin="miter"/><line x1="8.2" x2="20" y1="8.15" y2="8.15" stroke="#262626" stroke-width="1.25"/><polyline points="0.7,14.0 2.5,15.9 5.6,12.1" fill="none" stroke="#6cc46a" stroke-width="1.15" stroke-linejoin="miter"/><line x1="8.2" x2="20" y1="14.05" y2="14.05" stroke="#262626" stroke-width="1.25"/><path d="M41.4 2.2 L47 9.4 V15.7 H49.5 V9.4 L56.4 2.2 Z" fill="#dcdcdc" stroke="#c8c8c8" stroke-width="0.5"/><ellipse cx="48.9" cy="2.1" rx="7.4" ry="2.2" fill="#f2f2f2" stroke="#c6c6c6" stroke-width="0.9"/><path d="M50.7 8.3 L58.8 16.3 M58.8 8.3 L50.7 16.3" stroke="#a2a2a2" stroke-width="2" fill="none"/></g></svg>
<span class="t h" style="left:4.47px;top:8.14px;font-size:19.8px;transform:scaleX(0.9307)">Ship Mode</span>
<span class="t" style="left:21.04px;top:50.05px;font-size:18.6px;transform:scaleX(0.8932)">First  Class</span>
<span class="t" style="left:20.61px;top:87.95px;font-size:18.6px;transform:scaleX(0.9354)">Same Day</span>
<span class="t" style="left:20.65px;top:125.75px;font-size:18.6px;transform:scaleX(0.8884)">Second  Class</span>
<span class="t" style="left:20.63px;top:163.75px;font-size:18.6px;transform:scaleX(0.9104)">Standard  Class</span>
</div>
<div class="slicer" id="slicer-region" style="left:36px;top:656px;width:248px;height:218px">
<svg width="248" height="218" viewBox="36 656 248 218"><rect x="42" y="692.9" width="236" height="1.2" fill="#4472c4"/><rect x="49.15" y="699.45" width="223.80" height="31.80" rx="4.6" fill="#b4c7e7" stroke="#999999" stroke-width="1.7"/><rect x="49.15" y="737.25" width="223.80" height="31.80" rx="4.6" fill="#b4c7e7" stroke="#999999" stroke-width="1.7"/><rect x="49.15" y="775.15" width="223.80" height="31.80" rx="4.6" fill="#b4c7e7" stroke="#999999" stroke-width="1.7"/><rect x="49.15" y="813.25" width="223.80" height="31.80" rx="4.6" fill="#b4c7e7" stroke="#999999" stroke-width="1.7"/><g transform="translate(208,667.5)"><polyline points="0.7,2.2 2.5,4.1 5.6,0.3" fill="none" stroke="#6cc46a" stroke-width="1.15" stroke-linejoin="miter"/><line x1="8.2" x2="20" y1="2.25" y2="2.25" stroke="#262626" stroke-width="1.25"/><polyline points="0.7,8.1 2.5,10.0 5.6,6.2" fill="none" stroke="#6cc46a" stroke-width="1.15" stroke-linejoin="miter"/><line x1="8.2" x2="20" y1="8.15" y2="8.15" stroke="#262626" stroke-width="1.25"/><polyline points="0.7,14.0 2.5,15.9 5.6,12.1" fill="none" stroke="#6cc46a" stroke-width="1.15" stroke-linejoin="miter"/><line x1="8.2" x2="20" y1="14.05" y2="14.05" stroke="#262626" stroke-width="1.25"/><path d="M41.4 2.2 L47 9.4 V15.7 H49.5 V9.4 L56.4 2.2 Z" fill="#dcdcdc" stroke="#c8c8c8" stroke-width="0.5"/><ellipse cx="48.9" cy="2.1" rx="7.4" ry="2.2" fill="#f2f2f2" stroke="#c6c6c6" stroke-width="0.9"/><path d="M50.7 8.3 L58.8 16.3 M58.8 8.3 L50.7 16.3" stroke="#a2a2a2" stroke-width="2" fill="none"/></g></svg>
<span class="t h" style="left:4.09px;top:8.94px;font-size:19.8px;transform:scaleX(0.9141)">Region</span>
<span class="t" style="left:22.59px;top:50.15px;font-size:18.6px;transform:scaleX(0.9642)">Central</span>
<span class="t" style="left:23.06px;top:87.95px;font-size:18.6px;transform:scaleX(0.9450)">East</span>
<span class="t" style="left:22.68px;top:125.85px;font-size:18.6px;transform:scaleX(0.9666)">South</span>
<span class="t" style="left:23.92px;top:163.95px;font-size:18.6px;transform:scaleX(0.9798)">West</span>
</div>
</div>
</body></html>
